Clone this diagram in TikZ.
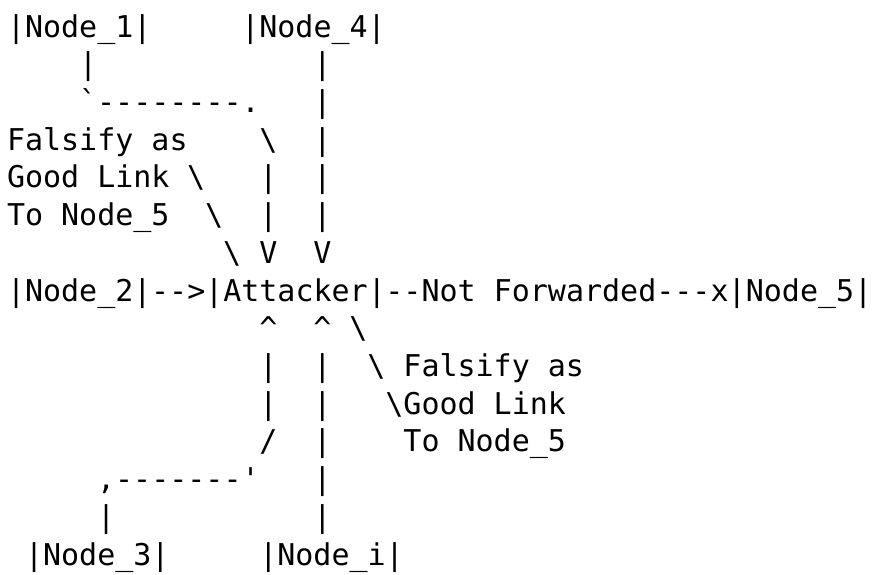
\documentclass[tikz,border=0pt]{standalone}
\usepackage{fontspec}
\setmonofont{DejaVu Sans Mono}
\tikzset{
  tok/.style={font=\ttfamily\fontsize{15}{18}\selectfont, inner sep=0pt, outer sep=0pt, anchor=base west, text=black},
}
\newcommand\bs{\textbackslash}
\begin{document}
\begin{tikzpicture}
\useasboundingbox (0pt,0pt) rectangle (436.5pt,-287pt);
\begin{scope}[shift={(3.5pt,-18.5pt)}, x=9.01pt, y=-18.86pt]
% row 0
\node[tok] (node1) at (0,0) {|Node\_1|};
\node[tok] (node4) at (13,0) {|Node\_4|};
% row 1
\node[tok] (a1) at (4,1) {|};
\node[tok] (b1) at (17,1) {|};
% row 2
\node[tok] (a2) at (4,2) {\textasciigrave--------.};
\node[tok] (b2) at (17,2) {|};
% row 3
\node[tok] (lab1a) at (0,3) {Falsify as};
\node[tok] (a3) at (14,3) {\bs};
\node[tok] (b3) at (17,3) {|};
% row 4
\node[tok] (lab1b) at (0,4) {Good Link};
\node[tok] (c4) at (10,4) {\bs};
\node[tok] (a4) at (14,4) {|};
\node[tok] (b4) at (17,4) {|};
% row 5
\node[tok] (lab1c) at (0,5) {To Node\_5};
\node[tok] (c5) at (11,5) {\bs};
\node[tok] (a5) at (14,5) {|};
\node[tok] (b5) at (17,5) {|};
% row 6
\node[tok] (c6) at (12,6) {\bs};
\node[tok] (a6) at (14,6) {V};
\node[tok] (b6) at (17,6) {V};
% row 7
\node[tok] (node2) at (0,7) {|Node\_2|};
\node[tok] (arr2) at (8,7) {-->};
\node[tok] (att) at (11,7) {|Attacker|};
\node[tok] (nf) at (21,7) {--Not Forwarded---x};
\node[tok] (node5) at (40,7) {|Node\_5|};
% row 8
\node[tok] (d8) at (14,8) {\textasciicircum};
\node[tok] (e8) at (17,8) {\textasciicircum};
\node[tok] (f8) at (19,8) {\bs};
% row 9
\node[tok] (d9) at (14,9) {|};
\node[tok] (e9) at (17,9) {|};
\node[tok] (f9) at (20,9) {\bs};
\node[tok] (lab2a) at (22,9) {Falsify as};
% row 10
\node[tok] (d10) at (14,10) {|};
\node[tok] (e10) at (17,10) {|};
\node[tok] (f10) at (21,10) {\bs};
\node[tok] (lab2b) at (22,10) {Good Link};
% row 11
\node[tok] (d11) at (14,11) {/};
\node[tok] (e11) at (17,11) {|};
\node[tok] (lab2c) at (22,11) {To Node\_5};
% row 12
\node[tok] (d12) at (5,12) {,-------\textquotesingle};
\node[tok] (e12) at (17,12) {|};
% row 13
\node[tok] (d13) at (5,13) {|};
\node[tok] (e13) at (17,13) {|};
% row 14
\node[tok] (node3) at (1,14) {|Node\_3|};
\node[tok] (nodei) at (14,14) {|Node\_i|};
\end{scope}
\end{tikzpicture}
\end{document}
